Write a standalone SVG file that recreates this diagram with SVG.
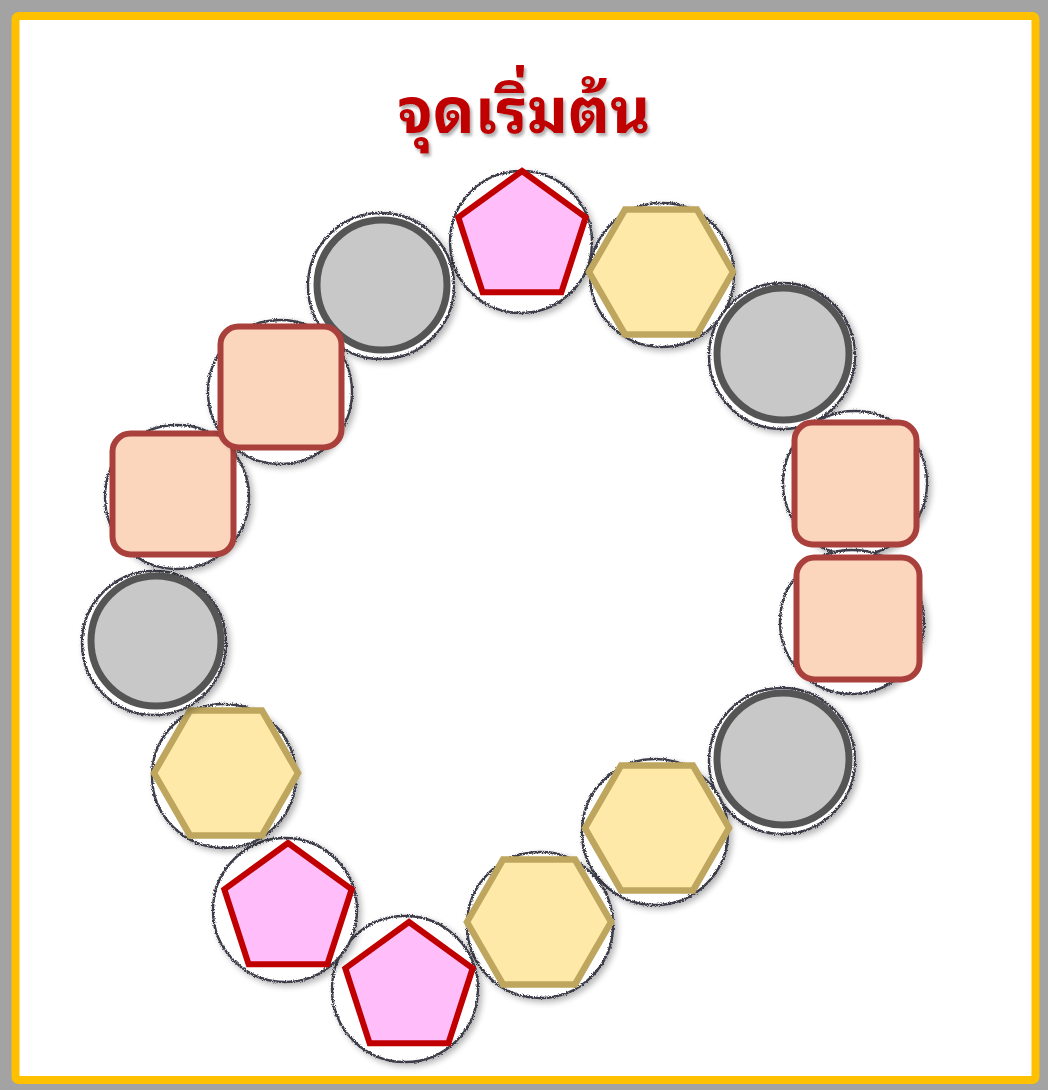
<svg xmlns="http://www.w3.org/2000/svg" width="1048" height="1090" viewBox="0 0 1048 1090">
<defs>
<style>
.bk{fill:#ffffff;stroke:#3c3c48;stroke-width:2.4;filter:url(#sketch)}
.gc{fill:#c8c8c8;stroke:#555555;stroke-width:7}
.hx{fill:#fee9a9;stroke:#bea65f;stroke-width:6.5;stroke-linejoin:miter}
.pt{fill:#ffbdf9;stroke:#c00000;stroke-width:6;stroke-linejoin:miter}
.sq{fill:#fbd5bc;stroke:#a9403c;stroke-width:6}
.title{font-family:"Noto Sans Thai Looped","Noto Serif Thai",Loma,Garuda,Tahoma,"Noto Sans Thai","Noto Sans",sans-serif;font-weight:bold;font-size:62px;fill:#c00000;filter:url(#tshadow)}
</style>
<filter id="sketch" x="-20%" y="-20%" width="145%" height="145%">
<feTurbulence type="fractalNoise" baseFrequency="0.9" numOctaves="2" seed="3" result="n"/>
<feDisplacementMap in="SourceGraphic" in2="n" scale="3.5" xChannelSelector="R" yChannelSelector="G" result="d"/>
<feGaussianBlur in="SourceAlpha" stdDeviation="3" result="b"/>
<feOffset in="b" dx="3" dy="3" result="o"/>
<feComponentTransfer in="o" result="s"><feFuncA type="linear" slope="0.3"/></feComponentTransfer>
<feMerge><feMergeNode in="s"/><feMergeNode in="d"/></feMerge>
</filter>
<filter id="tshadow" x="-10%" y="-20%" width="120%" height="150%">
<feDropShadow dx="2" dy="3" stdDeviation="1.5" flood-color="#7a7a7a" flood-opacity="0.6"/>
</filter>
<polygon id="hexs" points="-72,0 -36,-62.4 36,-62.4 72,0 36,62.4 -36,62.4"/>
<polygon id="pent" points="0,-67 63.7,-20.7 39.4,54.2 -39.4,54.2 -63.7,-20.7"/>
</defs>
<rect x="0" y="0" width="1048" height="1090" fill="#a3a3a3"/>
<rect x="15.5" y="16" width="1020" height="1064" rx="3" fill="#ffffff" stroke="#ffc000" stroke-width="8"/>
<text class="title" x="524" y="133" text-anchor="middle">จุดเริ่มต้น</text>
<g id="connectors"></g>
<g id="n1"><circle class="bk" cx="521" cy="242" r="71"/><use href="#pent" class="pt" x="522" y="238"/></g>
<g id="n2"><circle class="bk" cx="381" cy="286" r="73"/><circle class="gc" cx="382" cy="285" r="65"/></g>
<g id="n3"><circle class="bk" cx="662" cy="275" r="72"/><use href="#hexs" class="hx" x="661" y="272"/></g>
<g id="n4"><circle class="bk" cx="782" cy="356" r="73"/><circle class="gc" cx="783" cy="354" r="66"/></g>
<g id="n5"><circle class="bk" cx="855" cy="483" r="72"/><rect class="sq" x="794.5" y="422.5" width="122" height="122" rx="18"/></g>
<g id="n6"><circle class="bk" cx="852" cy="622" r="72"/><rect class="sq" x="796.5" y="557.5" width="123" height="122" rx="18"/></g>
<g id="n7"><circle class="bk" cx="782" cy="761" r="73"/><circle class="gc" cx="783" cy="759" r="66"/></g>
<g id="n8"><circle class="bk" cx="655" cy="832" r="73"/><use href="#hexs" class="hx" x="657" y="828"/></g>
<g id="n9"><circle class="bk" cx="540" cy="925" r="73"/><use href="#hexs" class="hx" x="539" y="922"/></g>
<g id="n10"><circle class="bk" cx="405" cy="989" r="73"/><use href="#pent" class="pt" x="409" y="989"/></g>
<g id="n11"><circle class="bk" cx="285" cy="910" r="72"/><use href="#pent" class="pt" x="288" y="910"/></g>
<g id="n12"><circle class="bk" cx="224" cy="776" r="72"/><use href="#hexs" class="hx" x="226" y="773"/></g>
<g id="n13"><circle class="bk" cx="154" cy="643" r="72"/><circle class="gc" cx="156" cy="641" r="65"/></g>
<g id="n14"><circle class="bk" cx="177" cy="497" r="72"/><rect class="sq" x="112.5" y="433.5" width="121" height="121" rx="18"/></g>
<g id="n15"><circle class="bk" cx="280" cy="392" r="72"/><rect class="sq" x="220.5" y="326.5" width="121" height="121" rx="18"/></g>
</svg>
